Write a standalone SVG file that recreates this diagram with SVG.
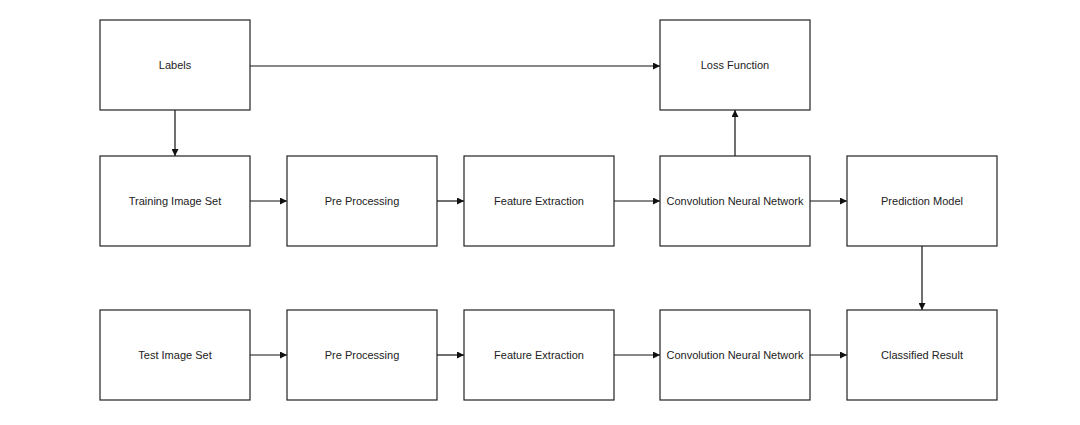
<svg xmlns="http://www.w3.org/2000/svg" width="1080" height="425" viewBox="0 0 1080 425">
<style>
.box{fill:#fff;stroke:#222;stroke-width:1.2}
.lbl{font-family:"Liberation Sans",Arial,sans-serif;font-size:11px;fill:#222;text-anchor:middle;dominant-baseline:central}
.edge{stroke:#111;stroke-width:1.2;fill:none;marker-end:url(#ah)}
</style>
<defs>
<marker id="ah" viewBox="0 0 10 10" refX="10" refY="5" markerWidth="7" markerHeight="7" markerUnits="userSpaceOnUse" orient="auto">
<path d="M0,0 L10,5 L0,10 z" fill="#111"/>
</marker>
</defs>
<rect width="1080" height="425" fill="#fff"/>
<g id="connectors">
<path class="edge" d="M250,66 H660"/>
<path class="edge" d="M175,110 V156"/>
<path class="edge" d="M735,156 V110"/>
<path class="edge" d="M250,201 H287"/>
<path class="edge" d="M437,201 H464"/>
<path class="edge" d="M614,201 H660"/>
<path class="edge" d="M810,201 H847"/>
<path class="edge" d="M922,246 V310"/>
<path class="edge" d="M250,355 H287"/>
<path class="edge" d="M437,355 H464"/>
<path class="edge" d="M614,355 H660"/>
<path class="edge" d="M810,355 H847"/>
</g>
<g id="labels"><rect class="box" x="100" y="20" width="150" height="90"/><text class="lbl" x="175" y="65">Labels</text></g>
<g id="loss"><rect class="box" x="660" y="20" width="150" height="90"/><text class="lbl" x="735" y="65">Loss Function</text></g>
<g id="train"><rect class="box" x="100" y="156" width="150" height="90"/><text class="lbl" x="175" y="201">Training Image Set</text></g>
<g id="pre1"><rect class="box" x="287" y="156" width="150" height="90"/><text class="lbl" x="362" y="201">Pre Processing</text></g>
<g id="feat1"><rect class="box" x="464" y="156" width="150" height="90"/><text class="lbl" x="539" y="201">Feature Extraction</text></g>
<g id="cnn1"><rect class="box" x="660" y="156" width="150" height="90"/><text class="lbl" x="735" y="201">Convolution Neural Network</text></g>
<g id="pred"><rect class="box" x="847" y="156" width="150" height="90"/><text class="lbl" x="922" y="201">Prediction Model</text></g>
<g id="test"><rect class="box" x="100" y="310" width="150" height="90"/><text class="lbl" x="175" y="355">Test Image Set</text></g>
<g id="pre2"><rect class="box" x="287" y="310" width="150" height="90"/><text class="lbl" x="362" y="355">Pre Processing</text></g>
<g id="feat2"><rect class="box" x="464" y="310" width="150" height="90"/><text class="lbl" x="539" y="355">Feature Extraction</text></g>
<g id="cnn2"><rect class="box" x="660" y="310" width="150" height="90"/><text class="lbl" x="735" y="355">Convolution Neural Network</text></g>
<g id="result"><rect class="box" x="847" y="310" width="150" height="90"/><text class="lbl" x="922" y="355">Classified Result</text></g>
</svg>
